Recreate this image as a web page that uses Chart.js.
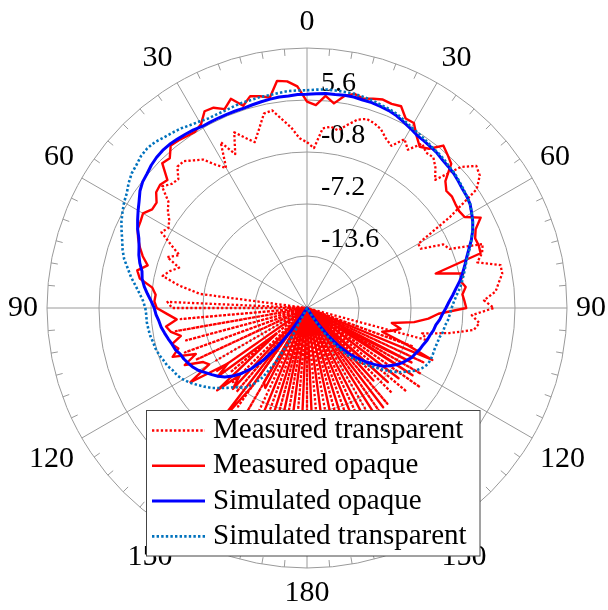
<!DOCTYPE html>
<html>
<head>
<meta charset="utf-8">
<title>Radiation pattern</title>
<script src="https://cdn.jsdelivr.net/npm/chart.js@4/dist/chart.umd.min.js"></script>
<style>
  html, body { margin: 0; padding: 0; background: #ffffff; }
  canvas { display: block; }
</style>
</head>
<body>
<canvas id="pattern" width="608" height="610"></canvas>
<script>
// Azimuth samples, degrees clockwise from the top, every 2.5 degrees
const azimuth = Array.from({ length: 144 }, (_, i) => i * 2.5);

// Labels shown on the 30-degree spokes (0..180 on both halves)
const spokeLabels = { 0: '0', 30: '30', 60: '60', 90: '90', 120: '120', 150: '150',
  180: '180', 210: '150', 240: '120', 270: '90', 300: '60', 330: '30' };

// Radial range in dB and ring spacing
const radialMin = -20;
const radialMax = 12;
const radialStep = 6.4;

// Gain in dB, one value per azimuth sample
const measuredTransparent = [
  0.4, -0.3, 2.2, 2.5, 2.2, 3.1, 4.0, 4.4, 4.2, 3.8, 3.0, 2.5,
  4.0, 3.1, 4.7, 4.1, 4.2, 3.4, 2.3, 5.7, 7.2, 6.8, 5.5, 0.9,
  -4.2, -4.2, -1.5, -1.0, 3.0, 2.6, 1.7, 4.4, 4.4, 3.8, 3.3, 1.8,
  3.0, 0.3, 1.3, 0.7, -2.2, -5.5, -4.6, -20, -6.1, -20, -4.2, -20,
  -3.8, -20, -3.0, -20, -4.0, -20, -5.2, -20, -4.6, -20, -4.0, -20,
  -2.8, -20, -3.4, -20, -2.2, -20, -2.8, -20, -1.5, -20, -2.2, -20,
  -0.9, -20, -1.5, -20, -2.2, -20, -1.5, -20, -2.8, -20, -3.4, -20,
  -4.0, -20, -5.2, -20, -6.5, -20, -7.1, -20, -7.7, -20, -6.5, -20,
  -7.1, -20, -4.9, -20, -4.0, -20, -4.6, -20, -3.6, -20, -4.4, -20,
  -3.4, -2.8, -20, -6.7, -4.0, -1.8, -2.5, -3.5, -1.7, -3.0, -1.5, 0.2,
  -0.3, 0.1, 0.9, 1.5, 3.3, 2.6, 2.4, 3.6, 3.6, 2.9, 2.3, 0.9,
  -0.1, 3.0, 0.9, 3.4, 2.3, 1.4, 2.8, 4.5, 4.7, 3.4, 2.3, 0.9
];

const measuredOpaque = [
  5.4, 5.0, 6.2, 5.4, 6.5, 7.0, 6.7, 7.0, 7.3, 7.2, 7.4, 6.3,
  6.3, 5.1, 4.2, 4.7, 6.1, 5.6, 5.1, 3.1, 2.4, 2.5, 2.3, 2.2,
  2.4, 4.1, 2.9, 2.4, 2.5, 2.4, -3.6, -0.3, -0.8, -0.3, -0.8, -0.6,
  -0.4, -3.8, -5.0, -6.7, -9.4, -8.2, -9.2, -10.3, -7.1, -3.3, -20, -5.5,
  -15.1, -4.6, -20, -5.8, -20, -6.5, -17.5, -7.9, -20, -4.6, -20, -2.8,
  -20, -4.0, -20, -1.5, -20, -2.8, -20, -1.5, -20, -0.3, -20, -1.5,
  -20, -1.5, -20, -2.8, -20, -0.3, -20, -2.8, -20, -1.5, -20, -8.9,
  -9.4, -20, -8.2, -1.5, -20, -6.5, -8.3, -5.0, -15.1, -6.2, -8.1, -3.0,
  -6.1, -5.6, -3.4, -5.2, -2.4, -3.4, -2.8, -4.1, -3.0, -2.5, -3.9, -2.8,
  -1.5, -1.2, -1.3, -0.8, 0.9, 1.4, 0.3, 1.2, 1.9, 2.5, 3.0, 3.1,
  3.3, 2.6, 2.6, 3.4, 3.6, 3.3, 5.2, 5.0, 6.1, 6.0, 5.8, 5.7,
  6.1, 7.3, 7.2, 6.5, 7.4, 6.1, 7.0, 6.7, 6.3, 8.2, 8.0, 7.3
];

const simulatedOpaque = [
  6.3, 6.4, 6.5, 6.5, 6.6, 6.6, 6.5, 6.5, 6.4, 6.3, 6.1, 5.8,
  5.5, 5.2, 5.1, 5.0, 4.9, 4.7, 4.6, 4.5, 4.3, 4.1, 4.0, 3.8,
  3.4, 3.0, 2.5, 1.9, 1.2, 0.6, 0.1, -0.4, -0.9, -1.5, -2.0, -2.5,
  -2.9, -3.3, -3.6, -4.0, -4.2, -4.5, -4.7, -5.0, -5.2, -5.5, -5.7, -6.1,
  -6.5, -7.0, -7.6, -8.2, -9.2, -10.2, -11.3, -12.4, -13.8, -15.6, -17.4, -19.0,
  -20, -20, -20, -20, -20, -20, -20, -20, -20, -20, -20, -20,
  -20, -20, -20, -20, -20, -20, -20, -20, -20, -20, -20, -20,
  -20, -19.0, -16.3, -13.8, -11.6, -9.9, -8.6, -7.6, -6.8, -6.2, -5.7, -5.2,
  -4.6, -4.2, -3.9, -3.6, -3.4, -3.0, -2.8, -2.5, -2.2, -1.9, -1.7, -1.4,
  -1.2, -0.8, -0.3, 0.2, 0.6, 0.8, 1.3, 1.7, 2.0, 2.4, 3.0, 3.5,
  4.0, 4.5, 5.1, 5.5, 5.7, 6.0, 6.2, 6.3, 6.3, 6.2, 6.1, 6.0,
  5.8, 5.8, 5.8, 5.8, 5.8, 5.8, 5.9, 6.0, 6.1, 6.2, 6.2, 6.3
];

const simulatedTransparent = [
  6.8, 6.9, 7.0, 7.0, 7.0, 7.0, 6.9, 6.8, 6.6, 6.5, 6.3, 6.0,
  5.7, 5.5, 5.3, 5.1, 5.0, 4.9, 4.7, 4.6, 4.4, 4.2, 4.0, 3.8,
  3.4, 3.0, 2.5, 1.9, 1.3, 0.7, 0.2, -0.2, -0.6, -1.0, -1.5, -1.9,
  -2.2, -2.4, -2.6, -2.9, -3.0, -3.3, -3.4, -3.5, -3.5, -3.5, -3.6, -4.0,
  -4.6, -5.4, -6.2, -7.2, -8.4, -9.4, -10.4, -11.5, -12.6, -14.3, -16.2, -18.2,
  -20, -20, -20, -20, -20, -20, -20, -20, -20, -20, -20, -20,
  -20, -20, -20, -20, -20, -20, -20, -20, -20, -20, -20, -15.7,
  -12.4, -9.9, -8.6, -7.7, -7.2, -6.8, -6.1, -5.4, -4.7, -4.1, -3.5, -2.9,
  -2.4, -2.0, -1.8, -1.4, -1.2, -0.9, -0.7, -0.6, -0.4, -0.3, -0.2, -0.2,
  -0.1, 0.2, 0.7, 1.3, 2.0, 2.6, 3.3, 3.8, 4.2, 4.7, 5.2, 5.6,
  6.0, 6.3, 6.8, 7.2, 7.4, 7.7, 7.8, 7.7, 7.4, 7.2, 7.0, 6.7,
  6.5, 6.3, 6.3, 6.3, 6.4, 6.5, 6.5, 6.6, 6.6, 6.7, 6.8, 6.8
];

const SERIF = '"Liberation Serif", "Times New Roman", serif';

// Ring value labels, placed just above each inner ring to the right of the 0-degree spoke
const ringLabels = {
  id: 'ringLabels',
  beforeDatasetsDraw(chart) {
    const s = chart.scales.r;
    const ctx = chart.ctx;
    ctx.save();
    ctx.font = '28px ' + SERIF;
    ctx.fillStyle = '#000';
    ctx.textAlign = 'left';
    ctx.textBaseline = 'alphabetic';
    s.ticks.forEach(t => {
      if (t.value <= s.min || t.value >= s.max) return;
      const d = s.getDistanceFromCenterForValue(t.value);
      ctx.fillText(t.label, s.xCenter + 14, s.yCenter - d - 9);
    });
    ctx.restore();
  }
};

// Boxed legend drawn over the lower part of the plot
const boxedLegend = {
  id: 'boxedLegend',
  afterDraw(chart) {
    const ctx = chart.ctx;
    ctx.save();
    ctx.fillStyle = '#ffffff';
    ctx.fillRect(147, 411, 333, 145);
    ctx.strokeStyle = '#444444';
    ctx.lineWidth = 1;
    ctx.strokeRect(146.5, 410.5, 333.5, 145.5);
    chart.data.datasets.forEach((ds, row) => {
      const y = 430.5 + row * 35.3;
      ctx.beginPath();
      ctx.setLineDash(ds.borderDash || []);
      ctx.lineWidth = ds.borderWidth;
      ctx.strokeStyle = ds.borderColor;
      ctx.moveTo(152, y);
      ctx.lineTo(205, y);
      ctx.stroke();
      ctx.setLineDash([]);
      ctx.fillStyle = '#000';
      ctx.font = '29px ' + SERIF;
      ctx.textAlign = 'left';
      ctx.textBaseline = 'middle';
      ctx.fillText(ds.label, 213, y);
    });
    ctx.restore();
  }
};

const GRID = '#9a9a9a';

new Chart(document.getElementById('pattern'), {
  type: 'radar',
  data: {
    labels: azimuth,
    datasets: [
      { label: 'Measured transparent', data: measuredTransparent, borderColor: '#ff0000',
        borderWidth: 2.3, borderDash: [2.3, 2.1], order: 4, borderJoinStyle: 'round' },
      { label: 'Measured opaque', data: measuredOpaque, borderColor: '#ff0000',
        borderWidth: 2.4, order: 3, borderJoinStyle: 'round' },
      { label: 'Simulated opaque', data: simulatedOpaque, borderColor: '#0000ff',
        borderWidth: 3, order: 2, borderJoinStyle: 'round' },
      { label: 'Simulated transparent', data: simulatedTransparent, borderColor: '#0072bd',
        borderWidth: 2.6, borderDash: [2.4, 2.2], order: 1, borderJoinStyle: 'round' }
    ]
  },
  options: {
    responsive: false,
    devicePixelRatio: 1,
    animation: false,
    layout: { padding: { left: 6, right: -2, top: 6, bottom: 0 } },
    elements: {
      point: { radius: 0, hoverRadius: 0 },
      line: { tension: 0, fill: false }
    },
    plugins: {
      legend: { display: false },
      tooltip: { enabled: false }
    },
    scales: {
      r: {
        min: radialMin,
        max: radialMax,
        ticks: { display: false, stepSize: radialStep },
        grid: { circular: true, color: GRID, lineWidth: 1 },
        angleLines: {
          display: true,
          color: ctx => (ctx.index % 2 === 0 ? GRID : 'rgba(0,0,0,0)'),
          lineWidth: ctx => (ctx.index % 2 === 0 ? 1 : 0),
          borderDash: ctx => (ctx.index % 12 === 0 ? [] : [0, 253, 7, 60])
        },
        pointLabels: {
          display: true,
          padding: 9,
          color: '#000',
          font: { family: SERIF, size: 30, lineHeight: 1.1 },
          callback: (label) => (spokeLabels[label] !== undefined ? spokeLabels[label] : '')
        }
      }
    }
  },
  plugins: [ringLabels, boxedLegend]
});
</script>
</body>
</html>
